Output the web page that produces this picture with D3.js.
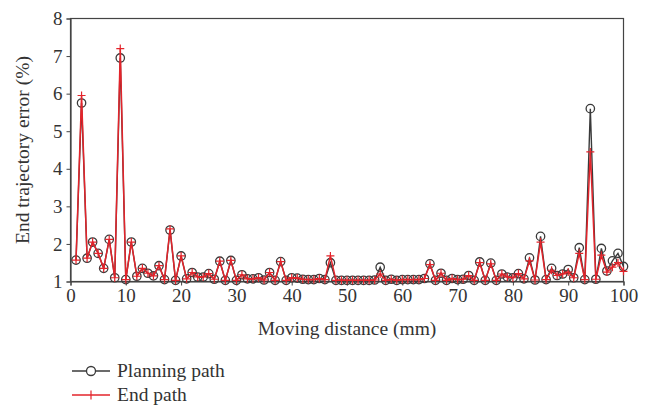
<!DOCTYPE html>
<html><head><meta charset="utf-8">
<script src="https://cdn.jsdelivr.net/npm/d3@7"></script>
<style>body{margin:0;background:#fff;}svg{display:block;}</style>
</head><body>
<svg id="c" width="651" height="405"></svg>
<script>
const distance = d3.range(1, 101);
const planningPath = [1.57,5.75,1.62,2.05,1.75,1.35,2.12,1.10,6.95,1.05,
 2.05,1.14,1.35,1.22,1.15,1.42,1.05,2.37,1.03,1.68,
 1.07,1.24,1.12,1.12,1.21,1.06,1.54,1.03,1.56,1.03,
 1.18,1.07,1.07,1.10,1.04,1.24,1.03,1.53,1.03,1.10,
 1.09,1.06,1.05,1.05,1.08,1.05,1.50,1.03,1.03,1.03,
 1.03,1.03,1.03,1.03,1.04,1.38,1.03,1.06,1.03,1.05,
 1.05,1.05,1.05,1.08,1.47,1.03,1.22,1.03,1.08,1.05,
 1.06,1.16,1.03,1.52,1.03,1.49,1.03,1.20,1.12,1.10,
 1.21,1.07,1.63,1.04,2.20,1.05,1.35,1.16,1.20,1.32,
 1.10,1.90,1.05,5.60,1.06,1.88,1.28,1.55,1.75,1.40];
const endPath = [1.57,5.95,1.62,2.05,1.75,1.35,2.12,1.10,7.20,1.05,
 2.05,1.14,1.35,1.22,1.15,1.42,1.05,2.40,1.03,1.68,
 1.07,1.24,1.12,1.12,1.21,1.06,1.54,1.03,1.56,1.03,
 1.18,1.07,1.07,1.10,1.04,1.24,1.03,1.53,1.03,1.10,
 1.09,1.06,1.05,1.05,1.08,1.05,1.68,1.03,1.03,1.03,
 1.03,1.03,1.03,1.03,1.04,1.20,1.03,1.06,1.03,1.05,
 1.05,1.05,1.05,1.08,1.45,1.03,1.22,1.03,1.08,1.05,
 1.06,1.16,1.03,1.50,1.03,1.47,1.03,1.20,1.12,1.10,
 1.21,1.07,1.55,1.04,2.05,1.05,1.30,1.16,1.20,1.25,
 1.10,1.75,1.05,4.45,1.06,1.70,1.25,1.38,1.50,1.27];
const xTicks = [0,10,20,30,40,50,60,70,80,90,100];
const yTicks = [1,2,3,4,5,6,7,8];
const seriesNames = ["Planning path","End path"];

const svg = d3.select("#c");
const L = 70.5, R = 623.5, T = 18.5, B = 281.5;
const x = d3.scaleLinear().domain([0,100]).range([L,R]);
const y = d3.scaleLinear().domain([1,8]).range([B,T]);
const font = "'Liberation Serif','Times New Roman',serif";
const black = "#3a3a3a", red = "#e3242b";
const fs = 19;

svg.append("rect").attr("x",L).attr("y",T).attr("width",R-L).attr("height",B-T)
  .attr("fill","none").attr("stroke","#444").attr("stroke-width",1.2);

const xa = svg.append("g").attr("transform",`translate(0,${B})`)
  .call(d3.axisBottom(x).tickValues(xTicks).tickFormat(d3.format("d")).tickSize(4).tickPadding(3));
const ya = svg.append("g").attr("transform",`translate(${L},0)`)
  .call(d3.axisLeft(y).tickValues(yTicks).tickFormat(d3.format("d")).tickSize(4).tickPadding(4));
[xa,ya].forEach(a=>{
  a.select(".domain").attr("stroke","#444").attr("stroke-width",1.2);
  a.selectAll(".tick line").attr("stroke","#444");
  a.selectAll("text").attr("font-family",font).attr("font-size",fs).attr("fill","#333");
});

svg.append("text").attr("x",(L+R)/2).attr("y",335).attr("text-anchor","middle")
  .attr("font-family",font).attr("font-size",fs+0.5).attr("fill","#333").text("Moving distance (mm)");
svg.append("text").attr("transform",`translate(29,${(T+B)/2}) rotate(-90)`).attr("text-anchor","middle")
  .attr("font-family",font).attr("font-size",fs+0.5).attr("fill","#333").text("End trajectory error (%)");

const line = d3.line().x((d,i)=>x(distance[i])).y(d=>y(d));

svg.append("path").datum(planningPath).attr("d",line).attr("fill","none")
  .attr("stroke",black).attr("stroke-width",1.4);
svg.append("g").selectAll("circle").data(planningPath).join("circle")
  .attr("cx",(d,i)=>x(distance[i])).attr("cy",d=>y(d)).attr("r",4.2)
  .attr("fill","none").attr("stroke",black).attr("stroke-width",1.3);

svg.append("path").datum(endPath).attr("d",line).attr("fill","none")
  .attr("stroke",red).attr("stroke-width",1.5);
svg.append("g").selectAll("path").data(endPath).join("path")
  .attr("d",(d,i)=>{const cx=x(distance[i]), cy=y(d); return `M${cx-4},${cy}H${cx+4}M${cx},${cy-4}V${cy+4}`;})
  .attr("stroke",red).attr("stroke-width",1.2).attr("fill","none");

const lg = svg.append("g");
lg.append("line").attr("x1",72).attr("x2",110).attr("y1",371).attr("y2",371).attr("stroke",black).attr("stroke-width",1.4);
lg.append("circle").attr("cx",91).attr("cy",371).attr("r",4.5).attr("fill","#fff").attr("stroke",black).attr("stroke-width",1.3);
lg.append("text").attr("x",117).attr("y",377).attr("font-family",font).attr("font-size",fs+0.5).attr("fill","#333").text(seriesNames[0]);
lg.append("line").attr("x1",72).attr("x2",110).attr("y1",395).attr("y2",395).attr("stroke",red).attr("stroke-width",1.4);
lg.append("path").attr("d","M91,390.5V399.5").attr("stroke",red).attr("stroke-width",1.2);
lg.append("text").attr("x",117).attr("y",401).attr("font-family",font).attr("font-size",fs+0.5).attr("fill","#333").text(seriesNames[1]);
</script>
</body></html>
